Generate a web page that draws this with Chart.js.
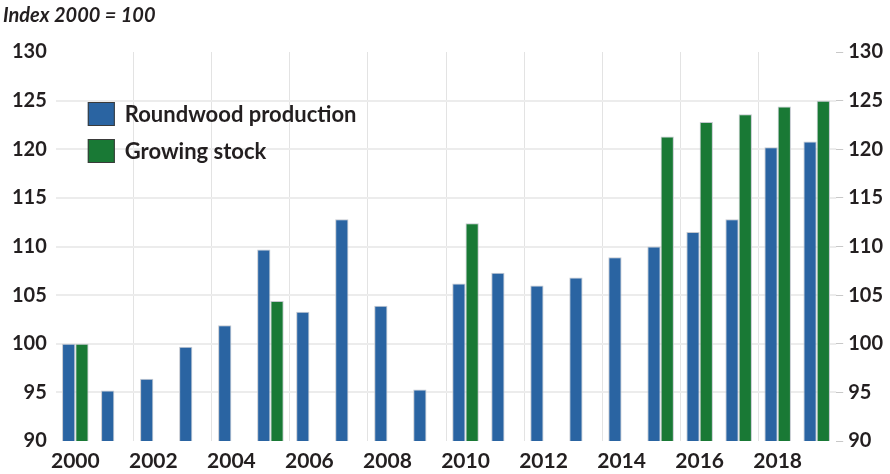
<!DOCTYPE html>
<html>
<head>
    <meta charset="UTF-8">
    <title>Roundwood production and growing stock</title>
    <script src="https://cdn.jsdelivr.net/npm/chart.js"></script>
    <style>
        body { margin: 0; background: #fff; }
        #wrap { width: 890px; height: 474px; position: relative; }
    </style>
</head>
<body>
<div id="wrap"><canvas id="chart"></canvas></div>

<script>
    var years = ['2000', '2001', '2002', '2003', '2004', '2005', '2006', '2007', '2008', '2009',
                 '2010', '2011', '2012', '2013', '2014', '2015', '2016', '2017', '2018', '2019'];
    var roundwood = [100, 95.2, 96.4, 99.7, 101.9, 109.7, 103.3, 112.8, 103.9, 95.3,
                     106.2, 107.3, 106.0, 106.8, 108.9, 110.0, 111.5, 112.8, 120.2, 120.8];
    var growingStock = [100, null, null, null, null, 104.4, null, null, null, null,
                        112.4, null, null, null, null, 121.3, 122.8, 123.6, 124.4, 125.0];
    var yTicks = [90, 95, 100, 105, 110, 115, 120, 125, 130];

    var FONT = 'Lato, "Open Sans", sans-serif';
    var TEXT = '#231f20';

    // legend drawn inside the plot area, stacked vertically
    var innerLegend = {
        id: 'innerLegend',
        afterDraw: function (chart) {
            var ctx = chart.ctx;
            var x = chart.chartArea.left + 32;
            var y = chart.chartArea.top + 62;
            ctx.save();
            ctx.font = 'bold 22px ' + FONT;
            ctx.textBaseline = 'middle';
            chart.data.datasets.forEach(function (ds, i) {
                var cy = y + i * 37;
                ctx.fillStyle = ds.backgroundColor;
                ctx.fillRect(x, cy - 12, 27, 24);
                ctx.strokeStyle = '#3a3a3a';
                ctx.lineWidth = 1;
                ctx.strokeRect(x + 0.5, cy - 11.5, 26, 23);
                ctx.fillStyle = TEXT;
                ctx.fillText(ds.label, x + 37, cy + 1);
            });
            ctx.restore();
        }
    };

    var ctx = document.getElementById('chart').getContext('2d');
    var chart = new Chart(ctx, {
        type: 'bar',
        data: {
            labels: years,
            datasets: [
                {
                    label: 'Roundwood production',
                    data: roundwood,
                    backgroundColor: '#2a64a2',
                    borderColor: '#c4c8cf',
                    borderWidth: 1,
                    categoryPercentage: 0.68,
                    barPercentage: 1.0
                },
                {
                    label: 'Growing stock',
                    data: growingStock,
                    backgroundColor: '#197935',
                    borderColor: '#c4c8cf',
                    borderWidth: 1,
                    categoryPercentage: 0.68,
                    barPercentage: 1.0
                }
            ]
        },
        options: {
            responsive: true,
            maintainAspectRatio: false,
            animation: false,
            layout: { padding: { left: 3, right: 2, top: 0, bottom: 0 } },
            plugins: {
                legend: { display: false },
                tooltip: { enabled: false },
                title: {
                    display: true,
                    text: 'Index 2000 = 100',
                    align: 'start',
                    color: TEXT,
                    font: { family: FONT, size: 20, weight: 'bold', style: 'italic' },
                    padding: { top: 4, bottom: 24 }
                }
            },
            scales: {
                x: {
                    offset: true,
                    border: { display: false },
                    afterFit: function (axis) { axis.height = 33; },
                    grid: {
                        offset: true,
                        drawTicks: false,
                        lineWidth: 1,
                        color: function (c) {
                            return (c.index % 2 === 0 && c.index > 0 && c.index < years.length) ? '#e3e3e3' : 'rgba(0,0,0,0)';
                        }
                    },
                    ticks: {
                        autoSkip: false,
                        maxRotation: 0,
                        padding: 8,
                        color: TEXT,
                        font: { family: FONT, size: 21, weight: 'bold' },
                        callback: function (v, i) { return i % 2 === 0 ? years[i] : ''; }
                    }
                },
                y: {
                    position: 'left',
                    min: 90,
                    max: 130,
                    border: { display: false },
                    afterBuildTicks: function (axis) {
                        axis.ticks = yTicks.map(function (v) { return { value: v }; });
                    },
                    grid: {
                        drawTicks: false,
                        lineWidth: 2,
                        color: function (c) {
                            var v = c.tick && c.tick.value;
                            return (v === 130 || v === 90) ? 'rgba(0,0,0,0)' : '#ececec';
                        }
                    },
                    ticks: {
                        padding: 9,
                        color: TEXT,
                        font: { family: FONT, size: 20, weight: 'bold' }
                    }
                },
                y2: {
                    position: 'right',
                    min: 90,
                    max: 130,
                    border: { display: false },
                    afterBuildTicks: function (axis) {
                        axis.ticks = yTicks.map(function (v) { return { value: v }; });
                    },
                    grid: {
                        drawOnChartArea: false,
                        drawTicks: true,
                        tickLength: 7,
                        tickColor: '#c8c8c8',
                        lineWidth: 1
                    },
                    ticks: {
                        padding: 5,
                        color: TEXT,
                        font: { family: FONT, size: 20, weight: 'bold' }
                    }
                }
            }
        },
        plugins: [innerLegend]
    });
</script>
</body>
</html>
